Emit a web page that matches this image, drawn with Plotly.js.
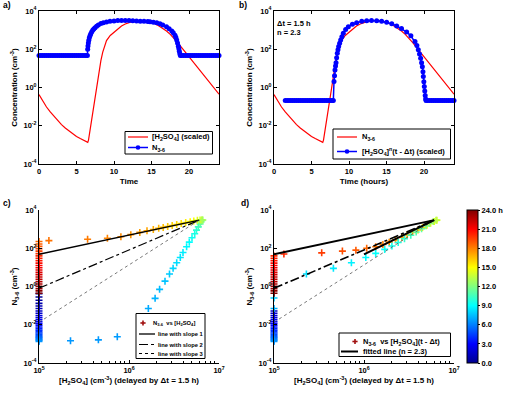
<!DOCTYPE html>
<html>
<head>
<meta charset="utf-8">
<script src="https://cdn.plot.ly/plotly-3.0.1.min.js"></script>
<style>
  html, body { margin: 0; padding: 0; background: #fff; }
  #chart { width: 509px; height: 394px; }
</style>
</head>
<body>
<div id="chart"></div>
<script>
// ---------------- data (time in hours, concentrations as log10 of cm^-3) ----------------

// red curve: drawn in a) and b)
const timeRed = [0,0.5,1,1.5,2,2.5,3,3.5,4,4.5,5,5.5,6,6.3,6.5,6.6,6.8,7,7.2,7.4,7.6,7.8,8,8.25,8.5,8.75,9,
  9.5,10,10.5,11,11.5,12,12.5,13,13.5,14,14.5,15,15.5,16,16.5,17,17.5,18,18.5,19,19.5,20,21,22,23,24];
const logRed = [-0.37,-0.72,-1.02,-1.28,-1.52,-1.74,-1.94,-2.12,-2.28,-2.43,-2.56,-2.67,-2.77,-2.82,-2.87,-2.75,-2.22,
  -1.68,-1.14,-0.62,-0.1,0.4,0.87,1.4,1.85,2.2,2.45,
  2.72,2.9,3.08,3.22,3.32,3.4,3.46,3.5,3.51,3.5,3.46,3.4,3.32,3.22,3.1,2.95,2.78,2.58,2.35,2.1,1.85,1.6,1.1,0.62,0.13,-0.35];

// blue curve with markers in a)
const timeBlueA = [0,0.25,0.5,0.75,1,1.25,1.5,1.75,2,2.25,2.5,2.75,3,3.25,3.5,3.75,4,4.25,4.5,4.75,5,5.25,5.5,5.75,6,6.25,6.45,
  6.49,6.53,6.58,6.64,6.71,6.8,6.89,7.02,7.16,7.3,7.47,7.68,7.91,8.25,8.58,9,9.47,10,10.5,11,11.5,12,12.5,13,13.5,14,14.5,14.8,
  15.25,15.7,16.13,16.5,17,17.35,17.7,17.9,18.13,18.25,18.36,18.47,18.58,18.65,18.71,18.78,18.85,
  19,19.25,19.5,19.75,20,20.25,20.5,20.75,21,21.25,21.5,21.75,22,22.25,22.5,22.75,23,23.25,23.5,23.75,24];
const logBlueA = [1.67,1.67,1.67,1.67,1.67,1.67,1.67,1.67,1.67,1.67,1.67,1.67,1.67,1.67,1.67,1.67,1.67,1.67,1.67,1.67,1.67,1.67,1.67,1.67,1.67,1.67,1.67,
  2.0,2.17,2.33,2.47,2.6,2.71,2.8,2.9,2.99,3.06,3.13,3.2,3.27,3.34,3.39,3.43,3.46,3.48,3.5,3.5,3.5,3.5,3.49,3.48,3.47,3.46,3.45,3.44,
  3.41,3.38,3.33,3.27,3.17,3.07,2.96,2.86,2.73,2.61,2.49,2.33,2.16,2.03,1.9,1.76,1.67,
  1.67,1.67,1.67,1.67,1.67,1.67,1.67,1.67,1.67,1.67,1.67,1.67,1.67,1.67,1.67,1.67,1.67,1.67,1.67,1.67,1.67];

// blue curve with markers in b)
const timeBlueB = [1.5,1.75,2,2.25,2.5,2.75,3,3.25,3.5,3.75,4,4.25,4.5,4.75,5,5.25,5.5,5.75,6,6.25,6.5,6.75,7,7.25,7.5,7.75,7.91,
  8,8.07,8.13,8.2,8.27,8.35,8.44,8.53,8.62,8.75,8.89,9.05,9.24,9.55,9.91,10.45,11.02,11.7,12.36,13,
  13.69,14.35,15.02,15.7,16.36,17,17.69,18.25,18.8,19.05,19.24,19.4,19.55,19.68,19.78,19.86,19.91,19.98,20.04,20.1,20.16,20.22,20.27,
  20.5,20.75,21,21.25,21.5,21.75,22,22.25,22.5,22.75,23,23.25,23.5,23.75,24];
const logBlueB = [-0.68,-0.68,-0.68,-0.68,-0.68,-0.68,-0.68,-0.68,-0.68,-0.68,-0.68,-0.68,-0.68,-0.68,-0.68,-0.68,-0.68,-0.68,-0.68,-0.68,-0.68,-0.68,-0.68,-0.68,-0.68,-0.68,-0.68,
  0.31,0.62,0.92,1.12,1.3,1.55,1.79,1.97,2.14,2.32,2.49,2.65,2.84,3.03,3.18,3.31,3.39,3.46,3.49,3.5,
  3.49,3.46,3.41,3.33,3.22,3.08,2.9,2.7,2.4,2.2,1.97,1.75,1.53,1.3,1.09,0.83,0.57,0.3,0.05,-0.18,-0.42,-0.6,-0.68,
  -0.68,-0.68,-0.68,-0.68,-0.68,-0.68,-0.68,-0.68,-0.68,-0.68,-0.68,-0.68,-0.68,-0.68,-0.68];

// c) N3-6 against delayed [H2SO4]; colour = time of day
const floorLogH2SO4 = 5;           // points sitting on the 1e5 cm^-3 floor
const colTimesC = [0,0.25,0.5,0.75,1,1.25,1.5,1.75,2,2.25,2.5,2.75,3,3.25,3.5,3.75,4,4.25,4.5,4.75,5,5.25,5.5,5.75,6,6.25,6.5,
  18.5,18.75,19,19.25,19.5,19.75,20,20.25,20.5,20.75,21,21.25,21.5,21.75,22,22.25,22.5,22.75,23,23.25,23.5,23.75,24];
const colLogNC  = [-0.37,-0.55,-0.72,-0.88,-1.02,-1.15,-1.28,-1.4,-1.52,-1.63,-1.74,-1.84,-1.94,-2.03,-2.12,-2.2,-2.28,-2.36,-2.43,-2.5,-2.56,-2.62,-2.67,-2.72,-2.77,-2.81,-2.87,
  2.35,2.22,2.1,1.97,1.85,1.72,1.6,1.47,1.35,1.22,1.1,0.98,0.86,0.74,0.62,0.5,0.37,0.25,0.13,0.01,-0.11,-0.23,-0.35];
const armLogXC = [5.35,5.66,5.87,6.215,6.29,6.34,6.4,6.45,6.49,6.53,6.57,6.6,6.64,6.67,6.7,6.73,6.75,6.77,6.79,6.8,6.81,
  5.11,5.54,5.76,5.91,6.02,6.12,6.2,6.27,6.33,6.38,6.43,6.48,6.53,6.58,6.63,6.68,6.72,6.76,6.79,6.81,6.82];
const armLogNC = [-2.84,-2.79,-2.63,-1.15,-0.62,-0.15,0.28,0.65,0.95,1.24,1.52,1.78,2.08,2.32,2.55,2.76,2.95,3.12,3.27,3.38,3.45,
  2.4,2.47,2.52,2.6,2.71,2.83,2.91,2.98,3.04,3.09,3.14,3.19,3.24,3.29,3.34,3.39,3.43,3.46,3.48,3.49,3.48];
const armTimesC = [6.55,6.6,6.65,7,7.2,7.4,7.6,7.8,8,8.2,8.4,8.6,8.8,9,9.3,9.6,10,10.5,11,11.5,12,
  18.3,18.1,17.9,17.7,17.5,17.3,17.1,16.9,16.7,16.5,16.3,16.1,15.9,15.7,15.4,15.1,14.8,14.4,13.9,13.4,12.8];

// d) N3-6 against [H2SO4](t - dt)
const colTimesD = [1.5,1.75,2,2.25,2.5,2.75,3,3.25,3.5,3.75,4,4.25,4.5,4.75,5,5.25,5.5,5.75,6,6.25,6.5,7.2,7.8,
  20,20.25,20.5,20.75,21,21.25,21.5,21.75,22,22.25,22.5,22.75,23,23.25,23.5,23.75,24];
const colLogND  = [-1.28,-1.4,-1.52,-1.63,-1.74,-1.84,-1.94,-2.03,-2.12,-2.2,-2.28,-2.36,-2.43,-2.5,-2.56,-2.62,-2.67,-2.72,-2.77,-2.81,-2.87,-1.15,-0.6,
  1.6,1.47,1.35,1.22,1.1,0.98,0.86,0.74,0.62,0.5,0.37,0.25,0.13,0.01,-0.11,-0.23,-0.35];
const armLogXD = [5.11,5.53,5.76,5.91,6.03,6.13,6.21,6.28,6.35,6.42,6.48,6.54,6.6,6.65,6.7,6.74,6.78,6.81,
  5.36,5.66,5.86,6.02,6.13,6.23,6.31,6.38,6.45,6.52,6.58,6.64,6.69,6.73,6.77,6.8];
const armLogND = [1.7,1.76,1.85,1.9,2.0,2.08,2.2,2.32,2.44,2.57,2.7,2.83,2.96,3.08,3.2,3.31,3.4,3.47,
  0.65,0.95,1.24,1.52,1.73,1.94,2.12,2.3,2.5,2.68,2.85,3.02,3.17,3.3,3.4,3.46];
const armTimesD = [20,19.6,19.2,18.9,18.6,18.3,18,17.7,17.4,17.1,16.8,16.5,16.1,15.7,15.3,14.9,14.5,14,
  8.3,8.5,8.7,8.9,9.1,9.3,9.5,9.8,10.1,10.5,10.9,11.3,11.8,12.3,12.8,13.3];

// reference lines in log-log space: all meet at the daily maximum
const lineAnchor = [6.78, 3.47];       // log10 x, log10 y
const lineStartLogX = 5;
const slopes = [1, 2, 3];
const fittedN = 2.3;
const fittedStartLogX = 6.0;

// ticks
const logTickVals = [1e-4, 1e-2, 1, 1e2, 1e4];
const logTickText = ['10<sup>-4</sup>', '10<sup>-2</sup>', '10<sup>0</sup>', '10<sup>2</sup>', '10<sup>4</sup>'];
const timeTickVals = [0, 5, 10, 15, 20];
const timeTickText = ['0', '5', '10', '15', '20'];
const h2so4TickVals = [1e5, 1e6, 1e7];
const h2so4TickText = ['10<sup>5</sup>', '10<sup>6</sup>', '10<sup>7</sup>'];
const cbTickVals = [0, 3, 6, 9, 12, 15, 18, 21, 24];
const cbTickText = ['0.0', '3.0', '6.0', '9.0', '12.0', '15.0', '18.0', '21.0', '24.0 h'];

// ---------------- helpers ----------------
const W = 509, H = 394;
const FONT = 'Liberation Sans, Arial, Helvetica, sans-serif';
const pxX = v => v / W;
const pxY = v => 1 - v / H;
const pow10 = a => a.map(v => Math.pow(10, v));
const RED = '#ff0000', BLUE = '#0000ff';
const JET = [[0, '#00008f'], [0.125, '#0000ff'], [0.375, '#00ffff'], [0.625, '#ffff00'], [0.875, '#ff0000'], [1, '#800000']];

function lineThrough(slope, x0) {
  const ys = [x0, lineAnchor[0]].map(x => lineAnchor[1] + slope * (x - lineAnchor[0]));
  return { x: pow10([x0, lineAnchor[0]]), y: pow10(ys) };
}

// ---------------- traces ----------------
const traces = [];
// a)
traces.push({ x: timeRed, y: pow10(logRed), mode: 'lines', line: { color: RED, width: 1.2 }, xaxis: 'x', yaxis: 'y' });
traces.push({ x: timeBlueA, y: pow10(logBlueA), mode: 'lines+markers', line: { color: BLUE, width: 1.5 },
  marker: { color: BLUE, size: 5 }, cliponaxis: false, xaxis: 'x', yaxis: 'y' });
// b)
traces.push({ x: timeRed, y: pow10(logRed), mode: 'lines', line: { color: RED, width: 1.2 }, xaxis: 'x2', yaxis: 'y2' });
traces.push({ x: timeBlueB, y: pow10(logBlueB), mode: 'lines+markers', line: { color: BLUE, width: 1.5 },
  marker: { color: BLUE, size: 5 }, cliponaxis: false, xaxis: 'x2', yaxis: 'y2' });

// c)
const crossMarker = { symbol: 'cross-thin-open', size: 5, colorscale: JET, cmin: 0, cmax: 24, line: { width: 1.6 } };
const cX = colTimesC.map(() => floorLogH2SO4).concat(armLogXC);
const cY = colLogNC.concat(armLogNC);
const cT = colTimesC.concat(armTimesC);
traces.push({ x: pow10(cX), y: pow10(cY), mode: 'markers', xaxis: 'x3', yaxis: 'y3', cliponaxis: false,
  marker: Object.assign({ color: cT }, crossMarker) });
const dashC = ['solid', 'dashdot', 'dot'];
const widthC = [1.5, 1.2, 0.8];
slopes.forEach((s, i) => {
  const l = lineThrough(s, lineStartLogX);
  traces.push({ x: l.x, y: l.y, mode: 'lines', line: { color: i === 2 ? '#555' : '#000', width: widthC[i], dash: dashC[i] }, xaxis: 'x3', yaxis: 'y3' });
});

// d)
const dX = colTimesD.map(() => floorLogH2SO4).concat(armLogXD);
const dY = colLogND.concat(armLogND);
const dT = colTimesD.concat(armTimesD);
traces.push({ x: pow10(dX), y: pow10(dY), mode: 'markers', xaxis: 'x4', yaxis: 'y4', cliponaxis: false,
  marker: Object.assign({ color: dT, showscale: true,
    colorbar: { x: pxX(467), xanchor: 'left', y: pxY(363), yanchor: 'bottom', len: 153, lenmode: 'pixels',
      thickness: 11, thicknessmode: 'pixels', xpad: 0, ypad: 0, outlinewidth: 1, outlinecolor: '#000',
      tickvals: cbTickVals, ticktext: cbTickText, ticks: 'outside', ticklen: 2, tickcolor: '#000',
      tickfont: { size: 7.5, family: FONT, color: '#000', weight: 'bold' } } }, crossMarker) });
const widthD = [2, 1.6, 0.8];
slopes.forEach((s, i) => {
  const l = lineThrough(s, lineStartLogX);
  traces.push({ x: l.x, y: l.y, mode: 'lines', line: { color: i === 2 ? '#555' : '#000', width: widthD[i], dash: dashC[i] }, xaxis: 'x4', yaxis: 'y4' });
});
const fit = lineThrough(fittedN, fittedStartLogX);
traces.push({ x: fit.x, y: fit.y, mode: 'lines', line: { color: '#000', width: 2 }, xaxis: 'x4', yaxis: 'y4' });

// ---------------- axes ----------------
const tickFont = { size: 7.5, family: FONT, color: '#000', weight: 'bold' };
const titleFont = { size: 8, family: FONT, color: '#000', weight: 'bold' };
function axis(extra) {
  return Object.assign({ showgrid: false, zeroline: false, showline: true, linecolor: '#000', linewidth: 1,
    ticks: 'inside', ticklen: 3, tickcolor: '#000', tickfont: tickFont, automargin: false,
    ticklabeloverflow: 'allow' }, extra);
}
const domAX = [pxX(39), pxX(219)], domBX = [pxX(274), pxX(454)];
const domTopY = [pxY(164), pxY(11)], domBotY = [pxY(363), pxY(210)];
const logY = { type: 'log', range: [-4, 4], tickmode: 'array', tickvals: logTickVals, ticktext: logTickText };
const timeX = { range: [0, 24], tickmode: 'array', tickvals: timeTickVals, ticktext: timeTickText };
const logX = { type: 'log', range: [5, 7], tickmode: 'array', tickvals: h2so4TickVals, ticktext: h2so4TickText,
  minor: { ticks: 'inside', ticklen: 2, tickcolor: '#000', dtick: 'D1', showgrid: false } };
const yTitle = text => ({ text: text, font: titleFont, standoff: 4 });
const xTitle = text => ({ text: text, font: titleFont, standoff: 3 });

// ---------------- legends, panel letters and notes ----------------
const shapes = [], annotations = [];
function box(x0, y0, x1, y1) {
  shapes.push({ type: 'rect', xref: 'paper', yref: 'paper', x0: pxX(x0), x1: pxX(x1), y0: pxY(y1), y1: pxY(y0),
    line: { color: '#000', width: 1 }, fillcolor: '#fff', layer: 'above' });
}
function seg(x0, y0, x1, y1, color, width, dash) {
  shapes.push({ type: 'line', xref: 'paper', yref: 'paper', x0: pxX(x0), x1: pxX(x1), y0: pxY(y0), y1: pxY(y1),
    line: { color: color, width: width, dash: dash || 'solid' }, layer: 'above' });
}
function dot(cx, cy, r, color) {
  shapes.push({ type: 'circle', xref: 'paper', yref: 'paper', x0: pxX(cx - r), x1: pxX(cx + r), y0: pxY(cy + r), y1: pxY(cy - r),
    line: { color: color, width: 0 }, fillcolor: color, layer: 'above' });
}
function plus(cx, cy, r, color) {
  seg(cx - r, cy, cx + r, cy, color, 1.6);
  seg(cx, cy - r, cx, cy + r, color, 1.6);
}
function label(x, y, text, size) {
  annotations.push({ xref: 'paper', yref: 'paper', x: pxX(x), y: pxY(y), text: text, showarrow: false,
    xanchor: 'left', yanchor: 'middle', borderpad: 0,
    font: { size: size || 7.5, family: FONT, color: '#000', weight: 'bold' } });
}

// a) legend
box(125, 131.5, 212.5, 154);
seg(128, 137, 148, 137, RED, 1.2);
label(151, 137, '[H<sub>2</sub>SO<sub>4</sub>] (scaled)');
seg(128, 147.5, 148, 147.5, BLUE, 1.5); dot(138, 147.5, 2.3, BLUE);
label(151, 147.5, 'N<sub>3-6</sub>');
// b) legend
box(333, 129, 450.5, 159);
seg(337, 137, 357, 137, RED, 1.2);
label(361, 137, 'N<sub>3-6</sub>');
seg(337, 151.5, 357, 151.5, BLUE, 1.5); dot(347, 151.5, 2.3, BLUE);
label(361, 151.5, '[H<sub>2</sub>SO<sub>4</sub>]<sup>n</sup>(t - Δt) (scaled)');
// c) legend
box(136, 313.5, 205, 358.5);
plus(143, 323, 2.6, '#a01010');
label(151.5, 323, 'N<sub>3-6</sub>  vs [H<sub>2</sub>SO<sub>4</sub>]', 5.8);
seg(139, 334, 155, 334, '#000', 1.3);
label(157, 334, 'line with slope 1', 5.8);
seg(139, 344.5, 155, 344.5, '#000', 1.1, 'dashdot');
label(157, 344.5, 'line with slope 2', 5.8);
seg(139, 353.5, 155, 353.5, '#000', 1, 'dot');
label(157, 353.5, 'line with slope 3', 5.8);
// d) legend
box(339, 333, 450.5, 356.5);
plus(355, 341.5, 2.6, '#a01010');
label(361.5, 341.5, 'N<sub>3-6</sub>  vs [H<sub>2</sub>SO<sub>4</sub>](t - Δt)');
seg(341, 351.5, 358, 351.5, '#000', 2);
label(361.5, 351.5, 'fitted line (n = 2.3)');

// panel letters
label(2, 5, 'a)', 8.5);
label(238, 5, 'b)', 8.5);
label(2, 203, 'c)', 8.5);
label(240, 203, 'd)', 8.5);
// notes in b)
label(276, 23, 'Δt = 1.5 h');
label(276, 32.5, 'n = 2.3');

const layout = {
  width: W, height: H,
  margin: { l: 0, r: 0, t: 0, b: 0, autoexpand: false },
  paper_bgcolor: '#fff', plot_bgcolor: 'rgba(0,0,0,0)',
  showlegend: false,
  font: { family: FONT, color: '#000' },
  xaxis:  axis(Object.assign({ domain: domAX, anchor: 'y', mirror: 'ticks', title: xTitle('Time') }, timeX)),
  yaxis:  axis(Object.assign({ domain: domTopY, anchor: 'x', mirror: 'ticks', title: yTitle('Concentration (cm<sup>-3</sup>)') }, logY)),
  xaxis2: axis(Object.assign({ domain: domBX, anchor: 'y2', mirror: 'ticks', title: xTitle('Time (hours)') }, timeX)),
  yaxis2: axis(Object.assign({ domain: domTopY, anchor: 'x2', mirror: 'ticks', title: yTitle('Concentration (cm<sup>-3</sup>)') }, logY)),
  xaxis3: axis(Object.assign({ domain: domAX, anchor: 'y3', title: xTitle('[H<sub>2</sub>SO<sub>4</sub>] (cm<sup>-3</sup>) (delayed by Δt = 1.5 h)') }, logX)),
  yaxis3: axis(Object.assign({ domain: domBotY, anchor: 'x3', title: yTitle('N<sub>3-6</sub> (cm<sup>-3</sup>)') }, logY)),
  xaxis4: axis(Object.assign({ domain: domBX, anchor: 'y4', title: xTitle('[H<sub>2</sub>SO<sub>4</sub>] (cm<sup>-3</sup>) (delayed by Δt = 1.5 h)') }, logX)),
  yaxis4: axis(Object.assign({ domain: domBotY, anchor: 'x4', title: yTitle('N<sub>3-6</sub> (cm<sup>-3</sup>)') }, logY)),
  shapes: shapes,
  annotations: annotations
};

Plotly.newPlot('chart', traces, layout, { displayModeBar: false, staticPlot: true });
</script>
</body>
</html>
